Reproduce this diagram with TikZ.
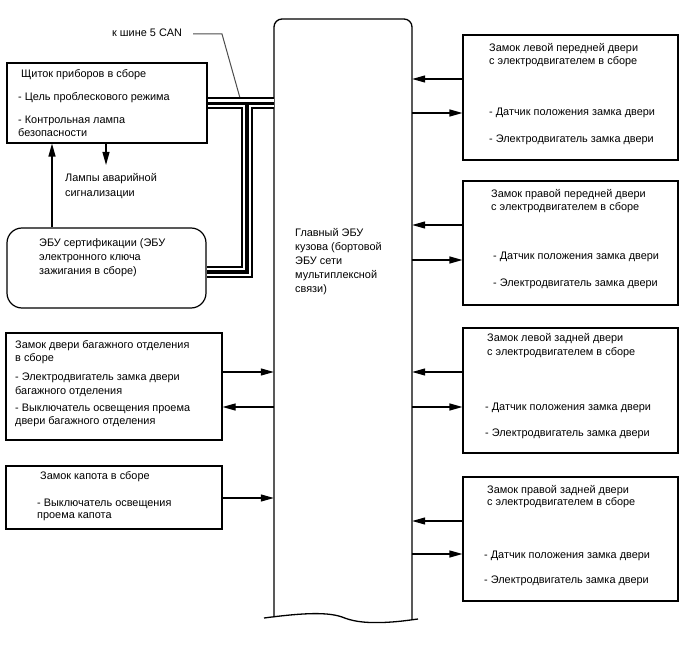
\documentclass[tikz,border=0pt]{standalone}
\usepackage{fontspec}
\setmainfont{Liberation Sans}
\usetikzlibrary{arrows.meta}
\begin{document}
\begin{tikzpicture}[x=1pt,y=-1pt,
  box/.style={draw, line width=1.2pt, inner sep=0pt, rectangle},
  lbl/.style={anchor=base west, inner sep=0pt, font=\fontsize{10.9}{13}\selectfont},
  arr/.style={line width=1.2pt, -{Triangle[length=13pt,width=7pt]}}]
\useasboundingbox (0,0) rectangle (688,658);

% main ECU
\node[inner sep=0pt, minimum width=138pt, minimum height=599pt] (ecu) at (343,318.5) {};
\draw[line width=1.3pt, rounded corners=8pt] (274,617) -- (274,19) -- (412,19) -- (412,619.5);
\draw[line width=1.3pt] (264,618) .. controls (295,614) and (325,611) .. (342,617)
  .. controls (352,621) and (362,623) .. (382,622.5) .. controls (398,622) and (410,620) .. (418,619);
\node[lbl] (ecu1) at (295,236.5) {Главный ЭБУ};
\node[lbl] (ecu2) at (295,250.5) {кузова (бортовой};
\node[lbl] (ecu3) at (295,264.5) {ЭБУ сети};
\node[lbl] (ecu4) at (295,278) {мультиплексной};
\node[lbl] (ecu5) at (295,292) {связи)};

% left boxes
\node[box, minimum width=200pt, minimum height=80pt] (instr) at (107,103) {};
\node[box, minimum width=199pt, minimum height=80pt, rounded corners=15pt] (cert) at (106.5,268) {};
\node[box, minimum width=216pt, minimum height=107pt] (trunk) at (114,386.5) {};
\node[box, minimum width=216pt, minimum height=63pt] (hood) at (114,497.5) {};

% right boxes
\node[box, minimum width=215pt, minimum height=125pt] (r1) at (570.5,97.5) {};
\node[box, minimum width=215pt, minimum height=124pt] (r2) at (570.5,243) {};
\node[box, minimum width=215pt, minimum height=125pt] (r3) at (570.5,390.5) {};
\node[box, minimum width=215pt, minimum height=124pt] (r4) at (570.5,539) {};

% texts left
\node[lbl] (can) at (112,37) {к шине 5 CAN};
\node[lbl] (in1) at (21,78) {Щиток приборов в сборе};
\node[lbl] (in2) at (18,101) {- Цель проблескового режима};
\node[lbl] (in3) at (18,124) {- Контрольная лампа};
\node[lbl] (in4) at (18,137) {безопасности};
\node[lbl] (lp1) at (65,182) {Лампы аварийной};
\node[lbl] (lp2) at (65,196) {сигнализации};
\node[lbl] (ce1) at (39,246) {ЭБУ сертификации (ЭБУ};
\node[lbl] (ce2) at (39,260) {электронного ключа};
\node[lbl] (ce3) at (39,274) {зажигания в сборе)};
\node[lbl] (tr1) at (15,348.5) {Замок двери багажного отделения};
\node[lbl] (tr2) at (15,361.5) {в сборе};
\node[lbl] (tr3) at (15,380.5) {- Электродвигатель замка двери};
\node[lbl] (tr4) at (15,394.5) {багажного отделения};
\node[lbl] (tr5) at (15,411.5) {- Выключатель освещения проема};
\node[lbl] (tr6) at (15,424.5) {двери багажного отделения};
\node[lbl] (ho1) at (40,479.5) {Замок капота в сборе};
\node[lbl] (ho2) at (37,506.5) {- Выключатель освещения};
\node[lbl] (ho3) at (37,518.5) {проема капота};

% texts right
\node[lbl] (a1) at (489,51.5) {Замок левой передней двери};
\node[lbl] (a2) at (489,65) {с электродвигателем в сборе};
\node[lbl] (a3) at (489,115.5) {- Датчик положения замка двери};
\node[lbl] (a4) at (489,142.5) {- Электродвигатель замка двери};
\node[lbl] (b1) at (491,197.5) {Замок правой передней двери};
\node[lbl] (b2) at (491,210.5) {с электродвигателем в сборе};
\node[lbl] (b3) at (493,259.5) {- Датчик положения замка двери};
\node[lbl] (b4) at (493,286.5) {- Электродвигатель замка двери};
\node[lbl] (c1) at (487,341.5) {Замок левой задней двери};
\node[lbl] (c2) at (487,355.5) {с электродвигателем в сборе};
\node[lbl] (c3) at (485,410.5) {- Датчик положения замка двери};
\node[lbl] (c4) at (485,436.5) {- Электродвигатель замка двери};
\node[lbl] (d1) at (487,493.5) {Замок правой задней двери};
\node[lbl] (d2) at (487,505.5) {с электродвигателем в сборе};
\node[lbl] (d3) at (484,558.5) {- Датчик положения замка двери};
\node[lbl] (d4) at (484,583.5) {- Электродвигатель замка двери};

% CAN leader
\coordinate (canA) at (193,34);
\coordinate (canB) at (222,34);
\coordinate (canC) at (240,98);
\draw[black!70, line width=1pt] (canA) -- (canB) -- (canC);

% CAN bundle
\path (instr.east |- 0,103.5) coordinate (bus1)
      (ecu.west |- 0,103.5) coordinate (bus2)
      (247,103.5) coordinate (bus3)
      (247,272) coordinate (bus4)
      (cert.east |- 0,272) coordinate (bus5);
\foreach \c/\w in {black/12pt, white/8pt, black/3.5pt}{
  \draw[\c, line width=\w] (bus1) -- (bus2);
  \draw[\c, line width=\w, line join=miter] (bus3) -- (bus4) -- (bus5);
}

% instrument arrows
\draw[arr] (cert.north -| 52,0) -- (instr.south -| 52,0);
\coordinate (lampTip) at (106,165);
\draw[arr] (instr.south -| 106,0) -- (lampTip);

% left arrows
\draw[arr] (trunk.east |- 0,372) -- (ecu.west |- 0,372);
\draw[arr] (ecu.west |- 0,407) -- (trunk.east |- 0,407);
\draw[arr] (hood.east |- 0,498) -- (ecu.west |- 0,498);

% right arrows
\draw[arr] (r1.west |- 0,79) -- (ecu.east |- 0,79);
\draw[arr] (ecu.east |- 0,113) -- (r1.west |- 0,113);
\draw[arr] (r2.west |- 0,225) -- (ecu.east |- 0,225);
\draw[arr] (ecu.east |- 0,260) -- (r2.west |- 0,260);
\draw[arr] (r3.west |- 0,372) -- (ecu.east |- 0,372);
\draw[arr] (ecu.east |- 0,407) -- (r3.west |- 0,407);
\draw[arr] (r4.west |- 0,521) -- (ecu.east |- 0,521);
\draw[arr] (ecu.east |- 0,554) -- (r4.west |- 0,554);
\end{tikzpicture}
\end{document}
